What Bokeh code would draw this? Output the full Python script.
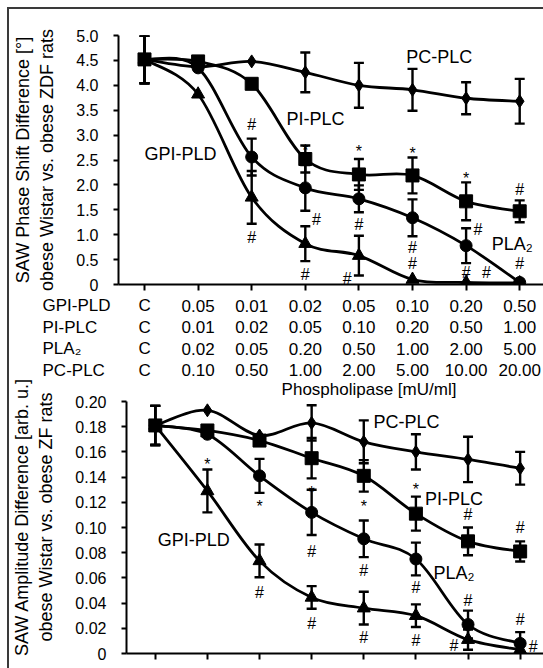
from bokeh.plotting import figure
from bokeh.models import Range1d, FixedTicker, Whisker, TeeHead, ColumnDataSource, NumeralTickFormatter
from bokeh.layouts import column, row
from bokeh.embed import file_html
from bokeh.resources import INLINE
from bokeh.core.properties import value

# ---------------- data ----------------
series_names = ["GPI-PLD", "PI-PLC", "PLA₂", "PC-PLC"]
gpi_conc = ["C", "0.05", "0.01", "0.02", "0.05", "0.10", "0.20", "0.50"]
pi_conc = ["C", "0.01", "0.02", "0.05", "0.10", "0.20", "0.50", "1.00"]
pla_conc = ["C", "0.02", "0.05", "0.20", "0.50", "1.00", "2.00", "5.00"]
pc_conc = ["C", "0.10", "0.50", "1.00", "2.00", "5.00", "10.00", "20.00"]
x_title = "Phospholipase [mU/ml]"

# top panel: SAW phase shift difference [deg]
pc_phase = [4.52, 4.37, 4.48, 4.26, 4.00, 3.91, 3.74, 3.68]
pc_phase_err = [0.48, 0, 0, 0.40, 0.45, 0.42, 0.32, 0.45]
pi_phase = [4.52, 4.48, 4.03, 2.52, 2.21, 2.19, 1.67, 1.47]
pi_phase_err = [0.48, 0, 0, 0.27, 0.31, 0.36, 0.38, 0.22]
pla_phase = [4.52, 4.35, 2.56, 1.94, 1.72, 1.34, 0.78, 0.04]
pla_phase_err = [0.48, 0, 0.37, 0.46, 0.27, 0.37, 0.35, 0]
gpi_phase = [4.52, 3.82, 1.75, 0.82, 0.58, 0.10, 0.04, 0.03]
gpi_phase_err = [0.48, 0, 0.53, 0.35, 0.40, 0, 0, 0]
phase_ticks = [0, 0.5, 1.0, 1.5, 2.0, 2.5, 3.0, 3.5, 4.0, 4.5, 5.0]

# bottom panel: SAW amplitude difference [arb. u.]
pc_amp = [0.181, 0.193, 0.173, 0.183, 0.168, 0.160, 0.154, 0.147]
pc_amp_err = [0.0155, 0, 0, 0.014, 0.017, 0.014, 0.018, 0.013]
pi_amp = [0.181, 0.177, 0.169, 0.155, 0.141, 0.111, 0.089, 0.081]
pi_amp_err = [0.0155, 0, 0, 0.016, 0.0125, 0.0135, 0.011, 0.008]
pla_amp = [0.181, 0.174, 0.141, 0.112, 0.091, 0.075, 0.023, 0.008]
pla_amp_err = [0.0155, 0, 0.0135, 0.018, 0.0145, 0.013, 0.011, 0.009]
gpi_amp = [0.181, 0.129, 0.0735, 0.0445, 0.036, 0.030, 0.011, 0.003]
gpi_amp_err = [0.0155, 0.017, 0.013, 0.009, 0.013, 0.009, 0.008, 0.005]
amp_ticks = [0, 0.02, 0.04, 0.06, 0.08, 0.10, 0.12, 0.14, 0.16, 0.18, 0.20]

# significance marks (symbol, category index, value)
top_ann_sym = ["#", "#", "*", "#", "#", "*", "#", "#", "*", "#", "#", "*", "#", "#", "#", "#", "#"]
top_ann_x = [2, 2, 3, 3.21, 3, 4, 4, 3.78, 5, 5, 5, 6, 6.22, 6, 6.38, 7, 7]
top_ann_y = [3.21, 0.95, 2.77, 1.30, 0.20, 2.76, 1.20, 0.13, 2.72, 0.75, 0.42, 2.21, 1.10, 0.25, 0.25, 1.90, 0.42]
bot_ann_sym = ["*", "*", "*", "*", "*", "#", "#", "#", "#", "#", "#", "#", "#", "#", "#", "#", "#", "#"]
bot_ann_x = [1, 2, 3, 4, 5, 6, 7, 3, 4, 5, 6, 7, 7.25, 5.73, 2, 3, 4, 5]
bot_ann_y = [0.153, 0.120, 0.131, 0.120, 0.133, 0.110, 0.100, 0.081, 0.066, 0.0526, 0.042, 0.0267,
             0.0056, 0.0063, 0.0487, 0.0235, 0.013, 0.0103]

# curve labels
top_lbl_text = ["PC-PLC", "PI-PLC", "GPI-PLD", "PLA₂"]
top_lbl_x = [5.50, 3.19, 0.67, 6.86]
top_lbl_y = [4.57, 3.33, 2.62, 0.82]
bot_lbl_text = ["PC-PLC", "PI-PLC", "PLA₂", "GPI-PLD"]
bot_lbl_x = [4.82, 5.73, 5.73, 0.74]
bot_lbl_y = [0.1836, 0.123, 0.0635, 0.0897]

# ---------------- styling ----------------
FONT = "Liberation Sans"
INK = "black"
x_idx = list(range(len(gpi_conc)))


def smooth(xs, ys):
    n = len(xs)
    d = dict(x0=[], y0=[], x1=[], y1=[], cx0=[], cy0=[], cx1=[], cy1=[])
    for i in range(n - 1):
        a, b = max(i - 1, 0), min(i + 2, n - 1)
        x1, y1, x2, y2 = xs[i], ys[i], xs[i + 1], ys[i + 1]
        d["x0"].append(x1); d["y0"].append(y1)
        d["x1"].append(x2); d["y1"].append(y2)
        d["cx0"].append(x1 + (x2 - xs[a]) / 6.0)
        d["cy0"].append(y1 + (y2 - ys[a]) / 6.0)
        d["cx1"].append(x2 - (xs[b] - x1) / 6.0)
        d["cy1"].append(y2 - (ys[b] - y1) / 6.0)
    return d


def style_axes(p, yticks, fmt, ylabel):
    p.grid.visible = False
    p.outline_line_color = None
    p.background_fill_color = "white"
    p.border_fill_color = "white"
    xa = p.xaxis[0]
    xa.ticker = FixedTicker(ticks=x_idx)
    xa.major_label_text_color = None
    xa.major_label_text_font_size = "1px"
    xa.major_label_standoff = 0
    xa.major_tick_out = 6
    xa.major_tick_in = 0
    xa.minor_tick_line_color = None
    xa.axis_line_width = 2
    xa.major_tick_line_width = 2
    xa.axis_line_color = INK
    xa.major_tick_line_color = INK
    ya = p.yaxis[0]
    ya.ticker = FixedTicker(ticks=yticks)
    ya.formatter = NumeralTickFormatter(format=fmt)
    ya.major_label_overrides = {0: "0"}
    ya.major_label_text_font = FONT
    ya.major_label_text_font_size = "16px"
    ya.major_label_text_color = INK
    ya.major_label_standoff = 15
    ya.major_tick_out = 5
    ya.major_tick_in = 0
    ya.minor_tick_line_color = None
    ya.axis_line_width = 2
    ya.major_tick_line_width = 2
    ya.axis_line_color = INK
    ya.major_tick_line_color = INK
    ya.bounds = (yticks[0], yticks[-1])
    ya.axis_label = ylabel
    ya.axis_label_text_font = FONT
    ya.axis_label_text_font_size = "18px"
    ya.axis_label_text_font_style = "normal"
    ya.axis_label_text_color = INK
    ya.axis_label_standoff = 16


def draw_panel(p, series, ann, lbl, cap):
    for vals, errs, marker, size in series:
        p.bezier(source=ColumnDataSource(smooth(x_idx, vals)), x0="x0", y0="y0", x1="x1", y1="y1",
                 cx0="cx0", cy0="cy0", cx1="cx1", cy1="cy1", line_color=INK, line_width=2.8)
    for vals, errs, marker, size in series:
        keep = [i for i in x_idx if errs[i] > 0]
        src = ColumnDataSource(dict(x=[x_idx[i] for i in keep],
                                    upper=[vals[i] + errs[i] for i in keep],
                                    lower=[vals[i] - errs[i] for i in keep]))
        w = Whisker(source=src, base="x", upper="upper", lower="lower", line_color=INK, line_width=2.4,
                    upper_head=TeeHead(size=cap, line_width=2.4, line_color=INK),
                    lower_head=TeeHead(size=cap, line_width=2.4, line_color=INK))
        w.level = "glyph"
        p.add_layout(w)
    for vals, errs, marker, size in series:
        p.scatter(x_idx, vals, marker=marker, size=size, fill_color=INK, line_color=INK)
    syms, ax, ay = ann
    p.text(x=ax, y=ay, text=syms, text_font=value(FONT), text_font_size="16px", text_color=INK,
           text_align="center", text_baseline="middle",
           y_offset=[4 if s == "*" else 0 for s in syms])
    t, lx, ly = lbl
    p.text(x=lx, y=ly, text=t, text_font=value(FONT), text_font_size="18px", text_color=INK,
           text_align="center", text_baseline="middle")


# ---------------- top panel ----------------
top = figure(width=534, height=283, x_range=Range1d(-0.485, 7.444), y_range=Range1d(0, 5.0),
             output_backend="svg", toolbar_location=None,
             min_border_left=109, min_border_right=0, min_border_top=26, min_border_bottom=8)
style_axes(top, phase_ticks, "0.0", "SAW Phase Shift Difference [°]\nobese Wistar vs. obese ZDF rats")
draw_panel(top,
           [(pc_phase, pc_phase_err, "diamond", 13),
            (pla_phase, pla_phase_err, "circle", 12),
            (gpi_phase, gpi_phase_err, "triangle", 13),
            (pi_phase, pi_phase_err, "square", 13)],
           (top_ann_sym, top_ann_x, top_ann_y),
           (top_lbl_text, top_lbl_x, top_lbl_y), 10)

# ---------------- concentration table ----------------
tab = figure(width=534, height=88, x_range=Range1d(-2.519, 7.444), y_range=Range1d(3.488, -0.605),
             output_backend="svg", toolbar_location=None,
             min_border_left=0, min_border_right=0, min_border_top=0, min_border_bottom=0,
             x_axis_location=None, y_axis_location=None)
tab.grid.visible = False
tab.outline_line_color = None
rows = [gpi_conc, pi_conc, pla_conc, pc_conc]
tx, ty, tt = [], [], []
for r, conc in enumerate(rows):
    for i, c in enumerate(conc):
        tx.append(x_idx[i]); ty.append(r); tt.append(c)
tab.text(x=tx, y=ty, text=tt, text_font=value(FONT), text_font_size="17px", text_color=INK,
         text_align="center", text_baseline="middle")
tab.text(x=[-1.903] * len(series_names), y=list(range(len(series_names))), text=series_names,
         text_font=value(FONT), text_font_size="17px", text_color=INK,
         text_align="left", text_baseline="middle")

# ---------------- bottom panel ----------------
bot = figure(width=534, height=288, x_range=Range1d(-0.552, 7.448), y_range=Range1d(0, 0.21667),
             output_backend="svg", toolbar_location=None,
             min_border_left=114, min_border_right=0, min_border_top=0, min_border_bottom=15)
style_axes(bot, amp_ticks, "0.00", "SAW Amplitude Difference [arb. u.]\nobese Wistar vs. obese ZF rats")
draw_panel(bot,
           [(pc_amp, pc_amp_err, "diamond", 13),
            (pla_amp, pla_amp_err, "circle", 12),
            (gpi_amp, gpi_amp_err, "triangle", 13),
            (pi_amp, pi_amp_err, "square", 13)],
           (bot_ann_sym, bot_ann_x, bot_ann_y),
           (bot_lbl_text, bot_lbl_x, bot_lbl_y), 10)
bot.text(x=[4.1], y=[0.2095], text=[x_title], text_font=value(FONT), text_font_size="17px",
         text_color=INK, text_align="center", text_baseline="middle")

layout = column(row(top), row(tab), row(bot), spacing=0,
                styles={"margin-left": "7px", "margin-top": "7px",
                        "border-left": "2px solid #3a3a3a", "border-top": "2px solid #3a3a3a"})

open("out.html", "w").write(file_html(layout, INLINE))
